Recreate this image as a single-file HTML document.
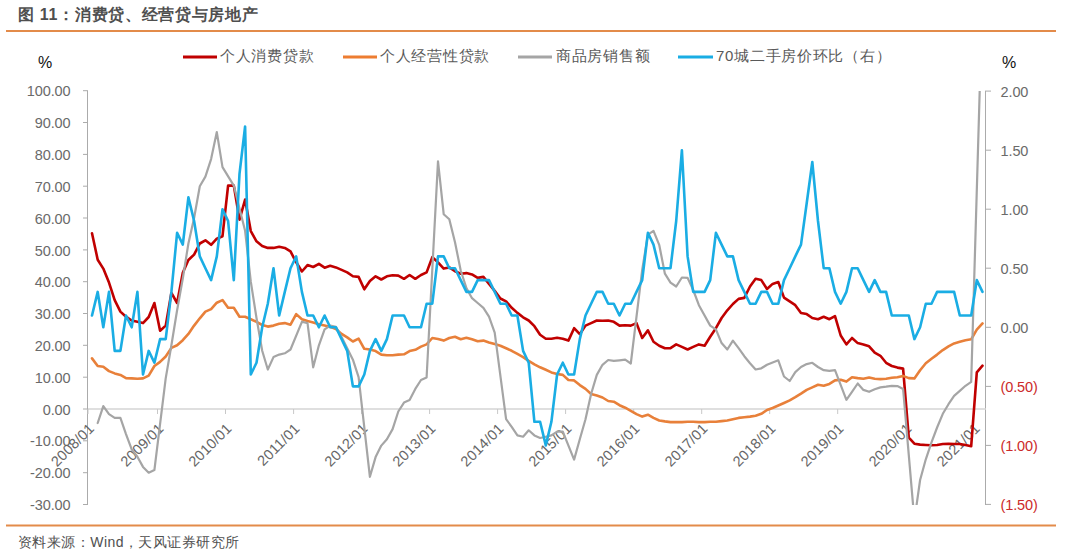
<!DOCTYPE html>
<html><head><meta charset="utf-8"><style>
html,body{margin:0;padding:0;background:#fff;}
body{width:1080px;height:555px;overflow:hidden;position:relative;font-family:"Liberation Sans",sans-serif;}
svg{position:absolute;left:0;top:0;}
.ax{font-size:14.5px;letter-spacing:-0.1px;fill:#6A6A6A;font-family:"Liberation Sans",sans-serif;}
.neg{fill:#CC2A2A;}
.xl{font-size:14.5px;letter-spacing:0.2px;fill:#666666;font-family:"Liberation Sans",sans-serif;}
.lg{font-size:15px;letter-spacing:0.72px;font-weight:300;fill:#595959;font-family:"Liberation Sans",sans-serif;}
.ttl{font-size:16px;letter-spacing:0.7px;font-weight:700;fill:#4F4F4F;font-family:"Liberation Sans",sans-serif;}
.pct{font-size:16px;fill:#111111;font-family:"Liberation Sans",sans-serif;}
.src{font-size:14px;letter-spacing:0.45px;fill:#505050;font-family:"Liberation Sans",sans-serif;}
</style></head><body>
<svg width="1080" height="555" viewBox="0 0 1080 555">
<rect x="0" y="0" width="1080" height="555" fill="#FFFFFF"/>
<text x="18" y="20.2" class="ttl">图 11：消费贷、经营贷与房地产</text>
<rect x="6" y="30" width="1050" height="2" fill="#E38B4A"/>
<text x="38" y="68" class="pct">%</text>
<text x="1002" y="68" class="pct">%</text>
<line x1="87.5" y1="91" x2="87.5" y2="505" stroke="#ABABAB" stroke-width="1"/>
<line x1="985.5" y1="91" x2="985.5" y2="505" stroke="#ABABAB" stroke-width="1"/>
<line x1="83" y1="90.7" x2="88" y2="90.7" stroke="#ABABAB" stroke-width="1"/>
<text x="70.5" y="96.3" text-anchor="end" class="ax">100.00</text>
<line x1="83" y1="122.5" x2="88" y2="122.5" stroke="#ABABAB" stroke-width="1"/>
<text x="70.5" y="128.1" text-anchor="end" class="ax">90.00</text>
<line x1="83" y1="154.4" x2="88" y2="154.4" stroke="#ABABAB" stroke-width="1"/>
<text x="70.5" y="160.0" text-anchor="end" class="ax">80.00</text>
<line x1="83" y1="186.2" x2="88" y2="186.2" stroke="#ABABAB" stroke-width="1"/>
<text x="70.5" y="191.8" text-anchor="end" class="ax">70.00</text>
<line x1="83" y1="218.0" x2="88" y2="218.0" stroke="#ABABAB" stroke-width="1"/>
<text x="70.5" y="223.6" text-anchor="end" class="ax">60.00</text>
<line x1="83" y1="249.9" x2="88" y2="249.9" stroke="#ABABAB" stroke-width="1"/>
<text x="70.5" y="255.5" text-anchor="end" class="ax">50.00</text>
<line x1="83" y1="281.7" x2="88" y2="281.7" stroke="#ABABAB" stroke-width="1"/>
<text x="70.5" y="287.3" text-anchor="end" class="ax">40.00</text>
<line x1="83" y1="313.5" x2="88" y2="313.5" stroke="#ABABAB" stroke-width="1"/>
<text x="70.5" y="319.1" text-anchor="end" class="ax">30.00</text>
<line x1="83" y1="345.3" x2="88" y2="345.3" stroke="#ABABAB" stroke-width="1"/>
<text x="70.5" y="350.9" text-anchor="end" class="ax">20.00</text>
<line x1="83" y1="377.2" x2="88" y2="377.2" stroke="#ABABAB" stroke-width="1"/>
<text x="70.5" y="382.8" text-anchor="end" class="ax">10.00</text>
<line x1="83" y1="409.0" x2="88" y2="409.0" stroke="#ABABAB" stroke-width="1"/>
<text x="70.5" y="414.6" text-anchor="end" class="ax">0.00</text>
<line x1="83" y1="440.8" x2="88" y2="440.8" stroke="#ABABAB" stroke-width="1"/>
<text x="70.5" y="446.4" text-anchor="end" class="ax">-10.00</text>
<line x1="83" y1="472.7" x2="88" y2="472.7" stroke="#ABABAB" stroke-width="1"/>
<text x="70.5" y="478.3" text-anchor="end" class="ax">-20.00</text>
<line x1="83" y1="504.5" x2="88" y2="504.5" stroke="#ABABAB" stroke-width="1"/>
<text x="70.5" y="510.1" text-anchor="end" class="ax">-30.00</text>
<line x1="985" y1="91.1" x2="991" y2="91.1" stroke="#ABABAB" stroke-width="1"/>
<text x="1000.5" y="96.7" class="ax">2.00</text>
<line x1="985" y1="150.2" x2="991" y2="150.2" stroke="#ABABAB" stroke-width="1"/>
<text x="1000.5" y="155.8" class="ax">1.50</text>
<line x1="985" y1="209.2" x2="991" y2="209.2" stroke="#ABABAB" stroke-width="1"/>
<text x="1000.5" y="214.8" class="ax">1.00</text>
<line x1="985" y1="268.2" x2="991" y2="268.2" stroke="#ABABAB" stroke-width="1"/>
<text x="1000.5" y="273.9" class="ax">0.50</text>
<line x1="985" y1="327.3" x2="991" y2="327.3" stroke="#ABABAB" stroke-width="1"/>
<text x="1000.5" y="332.9" class="ax">0.00</text>
<line x1="985" y1="386.4" x2="991" y2="386.4" stroke="#ABABAB" stroke-width="1"/>
<text x="1000.5" y="392.0" class="ax neg">(0.50)</text>
<line x1="985" y1="445.4" x2="991" y2="445.4" stroke="#ABABAB" stroke-width="1"/>
<text x="1000.5" y="451.0" class="ax neg">(1.00)</text>
<line x1="985" y1="504.4" x2="991" y2="504.4" stroke="#ABABAB" stroke-width="1"/>
<text x="1000.5" y="510.1" class="ax neg">(1.50)</text>
<line x1="88" y1="409" x2="986" y2="409" stroke="#D4D4D4" stroke-width="1.6"/>
<line x1="88.0" y1="409" x2="88.0" y2="414" stroke="#C8C8C8" stroke-width="1"/>
<text transform="translate(95.0,429.5) rotate(-45)" text-anchor="end" class="xl">2008/01</text>
<line x1="157.5" y1="409" x2="157.5" y2="414" stroke="#C8C8C8" stroke-width="1"/>
<text transform="translate(164.5,429.5) rotate(-45)" text-anchor="end" class="xl">2009/01</text>
<line x1="225.5" y1="409" x2="225.5" y2="414" stroke="#C8C8C8" stroke-width="1"/>
<text transform="translate(232.5,429.5) rotate(-45)" text-anchor="end" class="xl">2010/01</text>
<line x1="293.6" y1="409" x2="293.6" y2="414" stroke="#C8C8C8" stroke-width="1"/>
<text transform="translate(300.6,429.5) rotate(-45)" text-anchor="end" class="xl">2011/01</text>
<line x1="361.6" y1="409" x2="361.6" y2="414" stroke="#C8C8C8" stroke-width="1"/>
<text transform="translate(368.6,429.5) rotate(-45)" text-anchor="end" class="xl">2012/01</text>
<line x1="429.6" y1="409" x2="429.6" y2="414" stroke="#C8C8C8" stroke-width="1"/>
<text transform="translate(436.6,429.5) rotate(-45)" text-anchor="end" class="xl">2013/01</text>
<line x1="497.6" y1="409" x2="497.6" y2="414" stroke="#C8C8C8" stroke-width="1"/>
<text transform="translate(504.6,429.5) rotate(-45)" text-anchor="end" class="xl">2014/01</text>
<line x1="565.6" y1="409" x2="565.6" y2="414" stroke="#C8C8C8" stroke-width="1"/>
<text transform="translate(572.6,429.5) rotate(-45)" text-anchor="end" class="xl">2015/01</text>
<line x1="633.7" y1="409" x2="633.7" y2="414" stroke="#C8C8C8" stroke-width="1"/>
<text transform="translate(640.7,429.5) rotate(-45)" text-anchor="end" class="xl">2016/01</text>
<line x1="701.7" y1="409" x2="701.7" y2="414" stroke="#C8C8C8" stroke-width="1"/>
<text transform="translate(708.7,429.5) rotate(-45)" text-anchor="end" class="xl">2017/01</text>
<line x1="769.7" y1="409" x2="769.7" y2="414" stroke="#C8C8C8" stroke-width="1"/>
<text transform="translate(776.7,429.5) rotate(-45)" text-anchor="end" class="xl">2018/01</text>
<line x1="837.7" y1="409" x2="837.7" y2="414" stroke="#C8C8C8" stroke-width="1"/>
<text transform="translate(844.7,429.5) rotate(-45)" text-anchor="end" class="xl">2019/01</text>
<line x1="905.7" y1="409" x2="905.7" y2="414" stroke="#C8C8C8" stroke-width="1"/>
<text transform="translate(912.7,429.5) rotate(-45)" text-anchor="end" class="xl">2020/01</text>
<line x1="973.8" y1="409" x2="973.8" y2="414" stroke="#C8C8C8" stroke-width="1"/>
<text transform="translate(980.8,429.5) rotate(-45)" text-anchor="end" class="xl">2021/01</text>
<clipPath id="pc"><rect x="88" y="91" width="898" height="414"/></clipPath>
<g clip-path="url(#pc)" fill="none" stroke-linejoin="round" stroke-linecap="round">
<path d="M92.0,233.3 L97.7,259.7 L103.3,268.6 L109.0,282.6 L114.7,300.1 L120.4,311.6 L126.0,316.7 L131.7,320.5 L137.4,321.8 L143.0,323.1 L148.7,317.0 L154.4,303.0 L160.1,330.7 L165.7,325.6 L171.4,292.8 L177.1,303.0 L182.8,272.8 L188.4,260.0 L194.1,254.6 L199.8,243.5 L205.4,240.3 L211.1,244.8 L216.8,238.7 L222.5,236.2 L228.1,185.6 L233.8,185.6 L239.5,219.6 L245.1,199.6 L250.8,231.1 L256.5,241.3 L262.2,246.0 L267.8,247.9 L273.5,247.9 L279.2,246.7 L284.8,247.9 L290.5,251.4 L296.2,262.3 L301.9,271.5 L307.5,265.1 L313.2,267.0 L318.9,263.9 L324.6,267.7 L330.2,265.8 L335.9,267.4 L341.6,269.9 L347.2,272.4 L352.9,276.3 L358.6,276.9 L364.3,289.3 L369.9,281.0 L375.6,276.3 L381.3,279.5 L386.9,276.3 L392.6,275.3 L398.3,275.6 L404.0,278.8 L409.6,275.0 L415.3,278.8 L421.0,275.0 L426.6,272.4 L432.3,257.2 L438.0,262.3 L443.7,268.6 L449.3,267.4 L455.0,271.2 L460.7,273.7 L466.4,273.1 L472.0,274.4 L477.7,277.9 L483.4,276.9 L489.0,283.9 L494.7,290.9 L500.4,298.5 L506.1,301.4 L511.7,307.8 L517.4,312.9 L523.1,317.3 L528.7,320.5 L534.4,326.2 L540.1,334.8 L545.8,338.7 L551.4,338.7 L557.1,337.7 L562.8,338.7 L568.4,340.6 L574.1,328.2 L579.8,334.2 L585.5,325.6 L591.1,323.1 L596.8,320.5 L602.5,320.8 L608.2,320.5 L613.8,321.8 L619.5,325.6 L625.2,325.3 L630.8,325.6 L636.5,323.1 L642.2,338.0 L647.9,330.4 L653.5,341.8 L659.2,345.7 L664.9,348.2 L670.5,348.2 L676.2,344.4 L681.9,346.9 L687.6,349.5 L693.2,346.9 L698.9,344.4 L704.6,345.7 L710.2,336.7 L715.9,328.2 L721.6,318.0 L727.3,310.3 L732.9,304.0 L738.6,298.9 L744.3,297.9 L750.0,286.5 L755.6,278.8 L761.3,280.1 L767.0,289.0 L772.6,283.9 L778.3,282.0 L784.0,297.6 L789.7,301.4 L795.3,305.2 L801.0,312.9 L806.7,314.1 L812.3,318.0 L818.0,319.2 L823.7,316.7 L829.4,319.2 L835.0,316.1 L840.7,335.5 L846.4,344.4 L852.0,338.0 L857.7,343.1 L863.4,344.4 L869.1,346.3 L874.7,352.7 L880.4,355.8 L886.1,362.8 L891.8,366.0 L897.4,367.6 L903.1,368.6 L908.8,437.6 L914.4,443.7 L920.1,444.6 L925.8,445.0 L931.5,445.3 L937.1,445.0 L942.8,444.0 L948.5,443.7 L954.1,444.0 L959.8,444.0 L965.5,445.0 L971.2,446.2 L976.8,372.4 L982.5,365.7" stroke="#C00000" stroke-width="2.6"/>
<path d="M92.0,358.4 L97.7,366.0 L103.3,366.7 L109.0,371.1 L114.7,373.4 L120.4,374.9 L126.0,378.1 L131.7,378.4 L137.4,378.8 L143.0,378.4 L148.7,375.6 L154.4,366.0 L160.1,361.9 L165.7,356.5 L171.4,347.9 L177.1,345.3 L182.8,340.2 L188.4,333.9 L194.1,325.6 L199.8,318.3 L205.4,311.6 L211.1,309.1 L216.8,302.7 L222.5,300.1 L228.1,307.8 L233.8,307.8 L239.5,316.7 L245.1,316.7 L250.8,319.2 L256.5,321.8 L262.2,325.0 L267.8,326.6 L273.5,325.6 L279.2,323.7 L284.8,323.1 L290.5,324.7 L296.2,314.1 L301.9,319.2 L307.5,321.1 L313.2,322.4 L318.9,324.3 L324.6,325.6 L330.2,326.9 L335.9,329.1 L341.6,333.9 L347.2,337.4 L352.9,341.5 L358.6,338.7 L364.3,348.8 L369.9,349.5 L375.6,351.1 L381.3,354.6 L386.9,355.2 L392.6,355.2 L398.3,354.6 L404.0,354.3 L409.6,351.1 L415.3,349.8 L421.0,346.6 L426.6,344.4 L432.3,338.0 L438.0,339.0 L443.7,340.6 L449.3,338.0 L455.0,336.7 L460.7,339.3 L466.4,337.7 L472.0,339.3 L477.7,341.2 L483.4,340.6 L489.0,342.5 L494.7,344.1 L500.4,345.7 L506.1,348.2 L511.7,350.8 L517.4,353.9 L523.1,357.1 L528.7,360.9 L534.4,364.4 L540.1,367.3 L545.8,369.8 L551.4,372.4 L557.1,374.0 L562.8,374.9 L568.4,380.0 L574.1,380.4 L579.8,385.1 L585.5,388.9 L591.1,394.0 L596.8,395.6 L602.5,397.5 L608.2,401.0 L613.8,401.7 L619.5,405.2 L625.2,407.7 L630.8,410.9 L636.5,414.1 L642.2,416.6 L647.9,414.7 L653.5,417.9 L659.2,420.5 L664.9,421.4 L670.5,422.1 L676.2,422.1 L681.9,422.1 L687.6,421.7 L693.2,421.7 L698.9,422.1 L704.6,422.1 L710.2,421.7 L715.9,421.7 L721.6,421.1 L727.3,420.5 L732.9,419.2 L738.6,417.9 L744.3,417.3 L750.0,416.6 L755.6,415.7 L761.3,413.8 L767.0,410.0 L772.6,408.0 L778.3,405.5 L784.0,403.0 L789.7,400.4 L795.3,397.2 L801.0,393.7 L806.7,389.9 L812.3,387.4 L818.0,384.8 L823.7,385.8 L829.4,383.9 L835.0,380.4 L840.7,379.7 L846.4,381.6 L852.0,377.2 L857.7,378.1 L863.4,378.8 L869.1,377.5 L874.7,378.8 L880.4,379.1 L886.1,378.8 L891.8,377.8 L897.4,377.2 L903.1,375.9 L908.8,378.1 L914.4,378.4 L920.1,370.2 L925.8,363.2 L931.5,358.7 L937.1,354.6 L942.8,350.1 L948.5,346.3 L954.1,343.4 L959.8,341.8 L965.5,340.2 L971.2,339.3 L976.8,329.7 L982.5,323.4" stroke="#E8803A" stroke-width="2.6"/>
<path d="M97.7,423.0 L103.3,406.1 L109.0,414.1 L114.7,417.9 L120.4,417.9 L126.0,434.1 L131.7,449.4 L137.4,456.7 L143.0,466.9 L148.7,472.7 L154.4,470.1 L165.7,378.4 L171.4,345.3 L177.1,310.3 L182.8,278.5 L188.4,243.5 L194.1,218.0 L199.8,186.2 L205.4,176.6 L211.1,159.1 L216.8,132.1 L222.5,167.1 L233.8,185.6 L239.5,208.5 L245.1,230.8 L250.8,281.7 L256.5,318.0 L262.2,350.8 L267.8,369.5 L273.5,357.1 L279.2,354.6 L284.8,353.3 L290.5,349.5 L301.9,321.8 L307.5,323.1 L313.2,367.3 L318.9,345.3 L324.6,329.4 L330.2,325.6 L335.9,326.9 L341.6,337.1 L347.2,348.2 L352.9,359.7 L358.6,377.2 L369.9,476.8 L375.6,457.1 L381.3,445.6 L386.9,439.2 L392.6,429.1 L398.3,411.5 L404.0,402.6 L409.6,400.1 L415.3,388.9 L421.0,380.0 L426.6,377.5 L438.0,161.4 L443.7,214.2 L449.3,219.3 L455.0,242.2 L460.7,270.5 L466.4,288.0 L472.0,298.2 L477.7,303.0 L483.4,307.8 L489.0,316.7 L494.7,332.6 L506.1,419.2 L511.7,426.8 L517.4,435.4 L523.1,436.7 L528.7,430.3 L534.4,435.4 L540.1,438.0 L545.8,436.7 L551.4,435.4 L557.1,431.6 L562.8,431.6 L574.1,459.6 L579.8,439.2 L585.5,419.2 L591.1,394.0 L596.8,374.9 L602.5,364.8 L608.2,360.0 L613.8,360.9 L619.5,360.3 L625.2,359.7 L630.8,363.5 L642.2,269.9 L647.9,234.6 L653.5,230.8 L659.2,244.8 L664.9,273.7 L670.5,282.6 L676.2,286.5 L681.9,277.5 L687.6,277.9 L693.2,290.0 L698.9,305.2 L710.2,325.6 L715.9,329.4 L721.6,343.1 L727.3,349.5 L732.9,340.6 L738.6,348.2 L744.3,356.2 L750.0,363.2 L755.6,369.5 L761.3,368.3 L767.0,364.8 L778.3,360.3 L784.0,376.5 L789.7,381.0 L795.3,372.1 L801.0,367.0 L806.7,364.1 L812.3,362.8 L818.0,367.0 L823.7,370.2 L829.4,370.8 L835.0,370.2 L846.4,399.8 L852.0,391.8 L857.7,383.5 L863.4,389.9 L869.1,391.8 L874.7,389.3 L880.4,387.4 L886.1,386.7 L891.8,385.8 L897.4,386.1 L903.1,388.9 L914.4,520.4 L920.1,480.0 L925.8,459.3 L931.5,442.4 L937.1,427.5 L942.8,413.8 L948.5,404.2 L954.1,395.9 L959.8,390.9 L965.5,385.8 L971.2,381.9 L982.5,-4.8" stroke="#A5A5A5" stroke-width="2.2"/>
<path d="M92.0,315.5 L97.7,291.9 L103.3,327.3 L109.0,291.9 L114.7,350.9 L120.4,350.9 L126.0,315.5 L131.7,327.3 L137.4,291.9 L143.0,374.5 L148.7,350.9 L154.4,362.7 L160.1,339.1 L165.7,339.1 L171.4,291.9 L177.1,232.8 L182.8,244.6 L188.4,197.4 L194.1,221.0 L199.8,256.4 L205.4,268.2 L211.1,280.1 L216.8,256.4 L222.5,209.2 L228.1,221.0 L233.8,280.1 L239.5,173.8 L245.1,126.5 L250.8,374.5 L256.5,362.7 L262.2,327.3 L267.8,303.7 L273.5,268.2 L279.2,315.5 L284.8,291.9 L290.5,268.2 L296.2,256.4 L301.9,291.9 L307.5,315.5 L313.2,315.5 L318.9,327.3 L324.6,315.5 L330.2,327.3 L335.9,327.3 L341.6,339.1 L347.2,350.9 L352.9,386.4 L358.6,386.4 L364.3,374.5 L369.9,350.9 L375.6,339.1 L381.3,350.9 L386.9,339.1 L392.6,315.5 L398.3,315.5 L404.0,315.5 L409.6,327.3 L415.3,327.3 L421.0,327.3 L426.6,303.7 L432.3,303.7 L438.0,256.4 L443.7,256.4 L449.3,268.2 L455.0,268.2 L460.7,280.1 L466.4,291.9 L472.0,291.9 L477.7,280.1 L483.4,280.1 L489.0,280.1 L494.7,291.9 L500.4,303.7 L506.1,303.7 L511.7,315.5 L517.4,315.5 L523.1,350.9 L528.7,362.7 L534.4,421.8 L540.1,421.8 L545.8,445.4 L551.4,421.8 L557.1,374.5 L562.8,362.7 L568.4,374.5 L574.1,374.5 L579.8,339.1 L585.5,315.5 L591.1,303.7 L596.8,291.9 L602.5,291.9 L608.2,303.7 L613.8,303.7 L619.5,315.5 L625.2,303.7 L630.8,303.7 L636.5,291.9 L642.2,280.1 L647.9,232.8 L653.5,244.6 L659.2,268.2 L664.9,268.2 L670.5,268.2 L676.2,221.0 L681.9,150.2 L687.6,256.4 L693.2,291.9 L698.9,291.9 L704.6,291.9 L710.2,280.1 L715.9,232.8 L721.6,244.6 L727.3,256.4 L732.9,256.4 L738.6,280.1 L744.3,291.9 L750.0,303.7 L755.6,303.7 L761.3,291.9 L767.0,291.9 L772.6,303.7 L778.3,303.7 L784.0,280.1 L789.7,268.2 L795.3,256.4 L801.0,244.6 L806.7,203.3 L812.3,162.0 L818.0,221.0 L823.7,268.2 L829.4,268.2 L835.0,291.9 L840.7,303.7 L846.4,291.9 L852.0,268.2 L857.7,268.2 L863.4,280.1 L869.1,291.9 L874.7,280.1 L880.4,291.9 L886.1,291.9 L891.8,315.5 L897.4,315.5 L903.1,315.5 L908.8,315.5 L914.4,339.1 L920.1,327.3 L925.8,303.7 L931.5,303.7 L937.1,291.9 L942.8,291.9 L948.5,291.9 L954.1,291.9 L959.8,315.5 L965.5,315.5 L971.2,315.5 L976.8,280.1 L982.5,291.9" stroke="#1AADE4" stroke-width="2.6"/>
</g>
<line x1="183" y1="57" x2="217" y2="57" stroke="#C00000" stroke-width="3"/>
<text x="220" y="60.8" class="lg">个人消费贷款</text>
<line x1="343" y1="57" x2="377" y2="57" stroke="#ED7D31" stroke-width="3"/>
<text x="380" y="60.8" class="lg">个人经营性贷款</text>
<line x1="518" y1="57" x2="552" y2="57" stroke="#A5A5A5" stroke-width="3"/>
<text x="556" y="60.8" class="lg">商品房销售额</text>
<line x1="678" y1="57" x2="713" y2="57" stroke="#1AADE4" stroke-width="3"/>
<text x="716" y="60.8" class="lg">70城二手房价环比（右）</text>
<rect x="6" y="524.5" width="1050" height="2" fill="#E38B4A"/>
<text x="18" y="547" class="src">资料来源：Wind，天风证券研究所</text>
</svg>
</body></html>
